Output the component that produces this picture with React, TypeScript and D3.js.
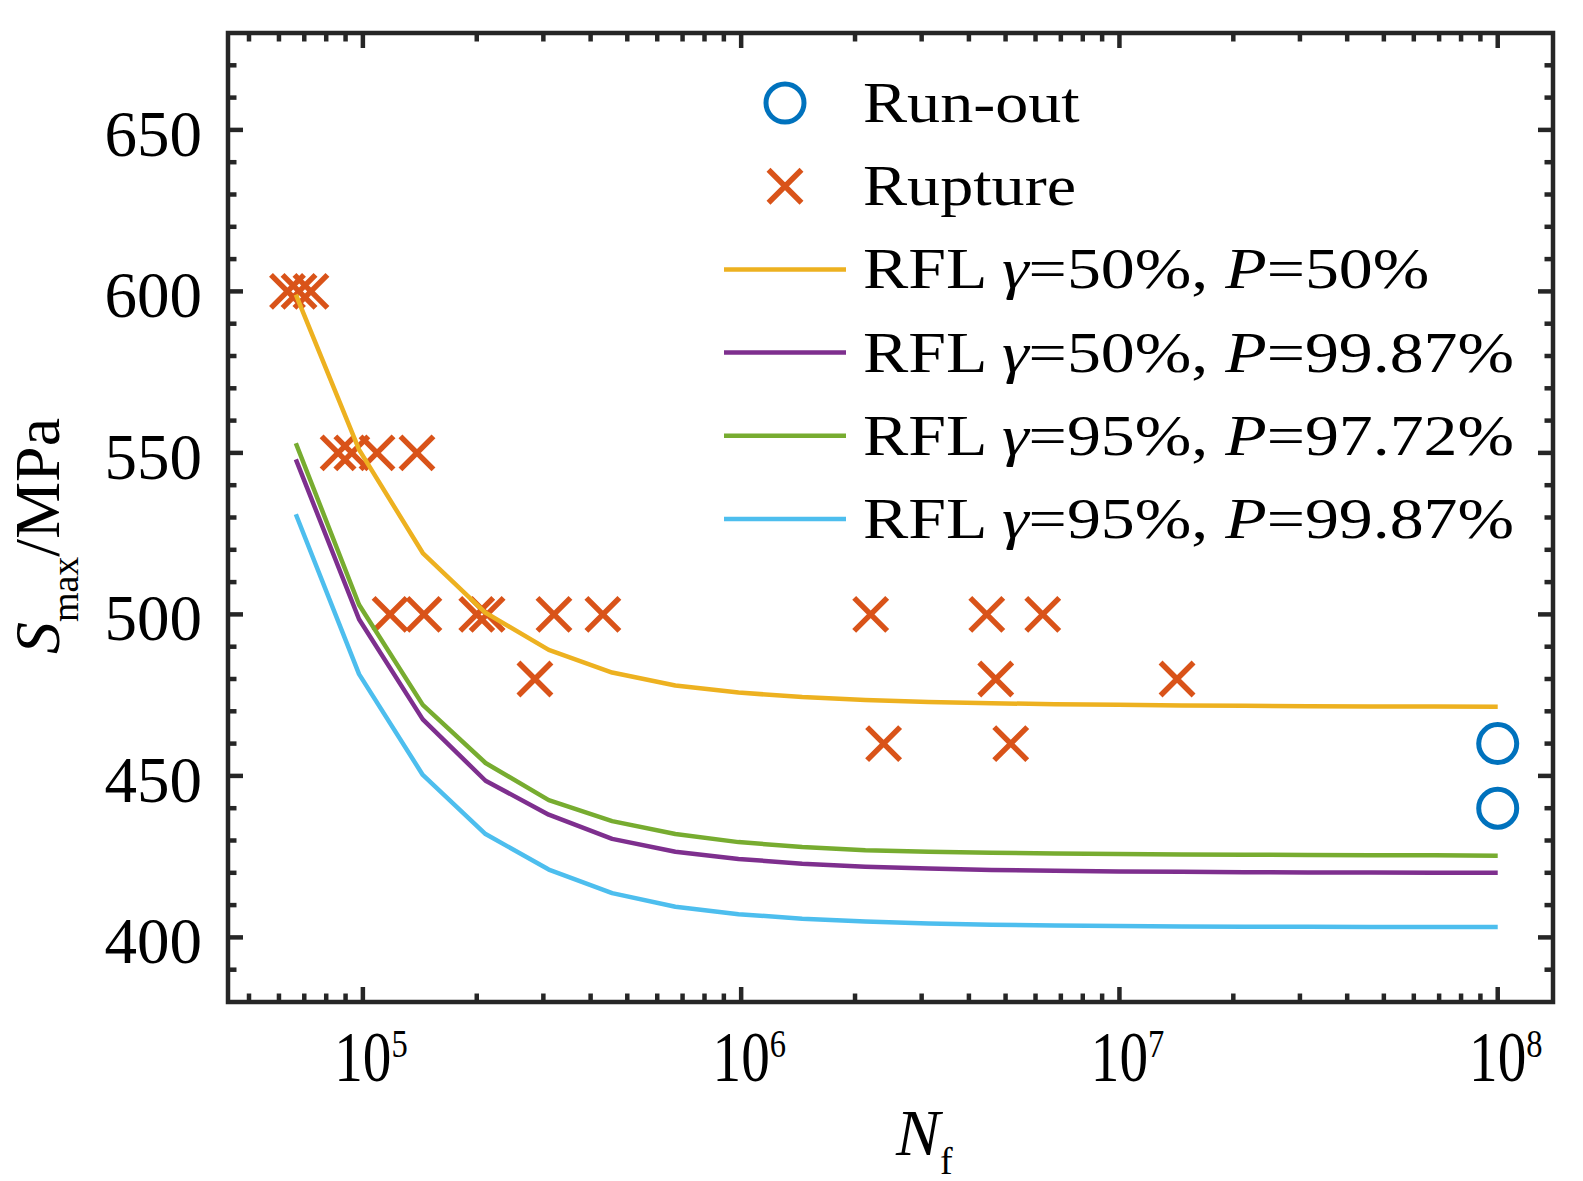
import React, { useEffect, useRef } from "react";
import * as d3 from "d3";

// Fatigue cycles at which the fitted curves were drawn
const curveN = [
  6.65e4, 9.77e4, 1.44e5, 2.11e5, 3.1e5, 4.56e5, 6.7e5, 9.84e5, 1.45e6, 2.13e6,
  3.13e6, 4.59e6, 6.75e6, 9.93e6, 1.46e7, 2.14e7, 3.15e7, 4.62e7, 6.8e7, 1e8,
];
const rflG50P50 = [
  599, 551, 519, 500.5, 489, 482, 478, 475.8, 474.4, 473.5, 472.9, 472.5, 472.2,
  472, 471.8, 471.7, 471.6, 471.5, 471.5, 471.4,
];
const rflG50P9987 = [
  548, 498.5, 467.5, 448.5, 438, 430.5, 426.5, 424.3, 422.8, 421.9, 421.3, 420.9,
  420.6, 420.4, 420.3, 420.2, 420.1, 420.1, 420, 420,
];
const rflG95P9772 = [
  553, 503, 472, 454, 442.5, 436, 432, 429.5, 428, 427, 426.5, 426.2, 426, 425.8,
  425.7, 425.6, 425.5, 425.4, 425.4, 425.3,
];
const rflG95P9987 = [
  531, 481.5, 450.3, 432, 421, 413.7, 409.5, 407.2, 405.8, 404.9, 404.3, 403.9,
  403.7, 403.5, 403.4, 403.3, 403.3, 403.2, 403.2, 403.2,
];

// Test results
const ruptureN = [
  6.32e4, 6.78e4, 7.29e4, 8.6e4, 9.35e4, 1.09e5, 1.39e5, 1.18e5, 1.45e5, 2.0e5,
  2.13e5, 3.2e5, 4.31e5, 2.2e6, 4.46e6, 6.27e6, 2.85e5, 4.71e6, 1.42e7, 2.38e6,
  5.16e6,
];
const ruptureS = [
  600, 600, 600, 550, 550, 550, 550, 500, 500, 500, 500, 500, 500, 500, 500, 500,
  480, 480, 480, 460, 460,
];
const runoutN = [1e8, 1e8];
const runoutS = [460, 440];

const yTicks = [400, 450, 500, 550, 600, 650];
const xTicks = [1e5, 1e6, 1e7, 1e8];
const xTickExp = ["5", "6", "7", "8"];

const curves = [
  { g: "50%", p: "50%", color: "#EDB120", values: rflG50P50 },
  { g: "50%", p: "99.87%", color: "#7E2F8E", values: rflG50P9987 },
  { g: "95%", p: "97.72%", color: "#77AC30", values: rflG95P9772 },
  { g: "95%", p: "99.87%", color: "#4DBEEE", values: rflG95P9987 },
];

const W = 1583;
const H = 1181;
const FONT = "'Liberation Serif', 'Times New Roman', serif";
const AXIS = "#262626";

const SNChart: React.FC = () => {
  const svgRef = useRef<SVGSVGElement | null>(null);

  useEffect(() => {
    const svg = d3.select(svgRef.current);
    svg.selectAll("*").remove();

    const left = 228, right = 1553, top = 33, bottom = 1002;
    const x = d3.scaleLog().domain([4.4e4, 1.4e8]).range([left, right]);
    const y = d3.scaleLinear().domain([380, 680]).range([bottom, top]);

    const plot = svg.append("g");

    // run-out circles
    plot
      .selectAll(".runout")
      .data(runoutN.map((n, i) => [n, runoutS[i]]))
      .enter()
      .append("circle")
      .attr("cx", (d) => x(d[0]!))
      .attr("cy", (d) => y(d[1]!))
      .attr("r", 19)
      .attr("fill", "none")
      .attr("stroke", "#0072BD")
      .attr("stroke-width", 5);

    // rupture crosses
    const cross = "M-16.5,-16.5L16.5,16.5M-16.5,16.5L16.5,-16.5";
    plot
      .selectAll(".rupture")
      .data(ruptureN.map((n, i) => [n, ruptureS[i]]))
      .enter()
      .append("path")
      .attr("d", cross)
      .attr("transform", (d) => `translate(${x(d[0]!)},${y(d[1]!)})`)
      .attr("fill", "none")
      .attr("stroke", "#D95319")
      .attr("stroke-width", 5.5);

    const line = d3
      .line<number>()
      .x((d, i) => x(curveN[i]!))
      .y((d) => y(d));

    curves.forEach((c) => {
      plot
        .append("path")
        .attr("d", line(c.values))
        .attr("fill", "none")
        .attr("stroke", c.color)
        .attr("stroke-width", 4.5)
        .attr("stroke-linejoin", "round");
    });

    // frame + ticks (inward, mirrored)
    const axes = svg.append("g").attr("stroke", AXIS).attr("stroke-width", 4.5);
    const yMinor = d3.range(390, 680, 10).filter((v) => v % 50 !== 0);
    const xMinor: number[] = [];
    for (let e = 4; e <= 7; e++) {
      for (let k = 2; k <= 9; k++) {
        const v = k * Math.pow(10, e);
        if (v > 4.4e4 && v < 1.4e8) xMinor.push(v);
      }
    }
    const tick = (x1: number, y1: number, x2: number, y2: number) =>
      axes.append("line").attr("x1", x1).attr("y1", y1).attr("x2", x2).attr("y2", y2);

    yTicks.forEach((v) => {
      tick(left, y(v), left + 15, y(v));
      tick(right, y(v), right - 15, y(v));
    });
    yMinor.forEach((v) => {
      tick(left, y(v), left + 8.5, y(v));
      tick(right, y(v), right - 8.5, y(v));
    });
    xTicks.forEach((v) => {
      tick(x(v), bottom, x(v), bottom - 15);
      tick(x(v), top, x(v), top + 15);
    });
    xMinor.forEach((v) => {
      tick(x(v), bottom, x(v), bottom - 8.5);
      tick(x(v), top, x(v), top + 8.5);
    });
    axes
      .append("rect")
      .attr("x", left)
      .attr("y", top)
      .attr("width", right - left)
      .attr("height", bottom - top)
      .attr("fill", "none")
      .attr("stroke-linejoin", "miter");

    // y tick labels
    svg
      .append("g")
      .selectAll("text")
      .data(yTicks)
      .enter()
      .append("text")
      .attr("x", 202)
      .attr("y", (d) => y(d) + 26)
      .attr("text-anchor", "end")
      .attr("font-family", FONT)
      .attr("font-size", 65)
      .text((d) => d);

    // x tick labels, 10^n
    xTicks.forEach((v, i) => {
      const g = svg
        .append("g")
        .attr("transform", `translate(${x(v) - 28.6},1081) scale(0.88,1.1)`);
      const t = g.append("text").attr("font-family", FONT).attr("font-size", 65);
      t.append("tspan").text("10");
      t.append("tspan").attr("font-size", 37).attr("dy", -22).text(xTickExp[i]!);
    });

    // axis titles
    const xl = svg
      .append("text")
      .attr("x", 896)
      .attr("y", 1155)
      .attr("font-family", FONT)
      .attr("font-size", 66);
    xl.append("tspan").attr("font-style", "italic").text("N");
    xl.append("tspan").attr("font-size", 38).attr("dy", 19).text("f");

    const yl = svg
      .append("text")
      .attr("transform", "translate(59,536) rotate(-90)")
      .attr("text-anchor", "middle")
      .attr("font-family", FONT)
      .attr("font-size", 64);
    yl.append("tspan").attr("font-style", "italic").text("S");
    yl.append("tspan").attr("font-size", 38).attr("dy", 19).text("max");
    yl.append("tspan").attr("dy", -19).text("/MPa");

    // legend
    const legend = svg.append("g");
    const rowY = (i: number) => 103 + i * 83.2;
    legend
      .append("circle")
      .attr("cx", 785)
      .attr("cy", rowY(0))
      .attr("r", 19)
      .attr("fill", "none")
      .attr("stroke", "#0072BD")
      .attr("stroke-width", 5);
    legend
      .append("path")
      .attr("d", cross)
      .attr("transform", `translate(785,${rowY(1)})`)
      .attr("fill", "none")
      .attr("stroke", "#D95319")
      .attr("stroke-width", 5.5);
    curves.forEach((c, i) => {
      legend
        .append("line")
        .attr("x1", 724)
        .attr("x2", 846)
        .attr("y1", rowY(i + 2))
        .attr("y2", rowY(i + 2))
        .attr("stroke", c.color)
        .attr("stroke-width", 4.5);
    });

    const legendText = (i: number, sx: number) =>
      legend
        .append("g")
        .attr("transform", `translate(863,${rowY(i) + 19}) scale(${sx},1)`)
        .append("text")
        .attr("font-family", FONT)
        .attr("font-size", 58);

    legendText(0, 1.14).text("Run-out");
    legendText(1, 1.14).text("Rupture");
    curves.forEach((c, i) => {
      const t = legendText(i + 2, 1.17);
      t.append("tspan").text("RFL ");
      t.append("tspan").attr("font-style", "italic").text("γ");
      t.append("tspan").text(`=${c.g}, `);
      t.append("tspan").attr("font-style", "italic").text("P");
      t.append("tspan").text(`=${c.p}`);
    });
  }, []);

  return (
    <svg
      ref={svgRef}
      width={W}
      height={H}
      style={{ position: "absolute", left: 0, top: 0, background: "white" }}
    ></svg>
  );
};

export default function App() {
  return <SNChart />;
}
